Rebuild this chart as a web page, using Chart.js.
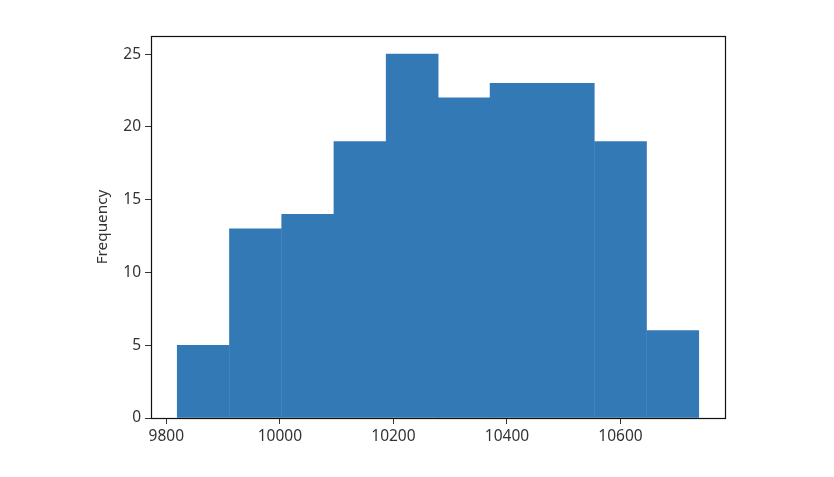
<!DOCTYPE html>
<html><head><meta charset="utf-8">
<script src="https://cdn.jsdelivr.net/npm/chart.js@4.4.0/dist/chart.umd.min.js"></script>
<style>html,body{margin:0;padding:0;background:#fff}#wrap{width:834px;height:477px}</style>
</head><body><div id="wrap"><canvas id="c" width="834" height="477"></canvas></div>
<script>
// Histogram bin edges and frequencies
const binEdges = [9819, 9911, 10003, 10095, 10187, 10279, 10370, 10462, 10554, 10646, 10738];
const frequencies = [5, 13, 14, 19, 25, 22, 23, 23, 19, 6];
const xTicks = [9800, 10000, 10200, 10400, 10600];
const yTicks = [0, 5, 10, 15, 20, 25];
const yLabel = 'Frequency';

const points = frequencies.map((f, i) => ({ x: (binEdges[i] + binEdges[i + 1]) / 2, y: f }));
const FONT = { family: 'Noto Sans', size: 15.5 };
const TXT = '#333';

const frame = {
  id: 'frame',
  afterDraw(chart) {
    const { ctx, chartArea: a } = chart;
    ctx.save();
    ctx.strokeStyle = '#111';
    ctx.lineWidth = 1.2;
    ctx.strokeRect(Math.round(a.left) + 0.5, Math.round(a.top) + 0.5, Math.round(a.right - a.left), Math.round(a.bottom - a.top));
    ctx.restore();
  }
};

new Chart(document.getElementById('c'), {
  type: 'bar',
  data: { datasets: [{ data: points, backgroundColor: '#3379b5', borderWidth: 0, barPercentage: 1, categoryPercentage: 1, grouped: false }] },
  options: {
    responsive: false, animation: false,
    layout: { padding: { left: 93, top: 36, right: 109, bottom: 0 } },
    plugins: { legend: { display: false }, tooltip: { enabled: false } },
    scales: {
      x: {
        type: 'linear', offset: false,
        min: 9773, max: 10784,
        afterBuildTicks: s => { s.ticks = xTicks.map(v => ({ value: v })); },
        afterFit: s => { s.height = 59; },
        grid: { display: true, offset: false, drawOnChartArea: false, drawTicks: true, tickLength: 6, color: '#000', tickColor: '#333' },
        border: { display: true, color: '#000' },
        ticks: { color: TXT, font: FONT, padding: 3, maxRotation: 0, autoSkip: false, callback: v => String(v) }
      },
      y: {
        min: 0, max: 26.25,
        afterBuildTicks: s => { s.ticks = yTicks.map(v => ({ value: v })); },
        afterFit: s => { s.width = 58; },
        grid: { display: true, offset: false, drawOnChartArea: false, drawTicks: true, tickLength: 6, color: '#000', tickColor: '#333' },
        border: { display: true, color: '#000' },
        ticks: { color: TXT, font: FONT, padding: 4 },
        title: { display: true, text: yLabel, color: TXT, font: { family: 'Noto Sans', size: 15.3 }, padding: { top: 0, bottom: 0 } }
      }
    }
  },
  plugins: [frame]
});
</script></body></html>
